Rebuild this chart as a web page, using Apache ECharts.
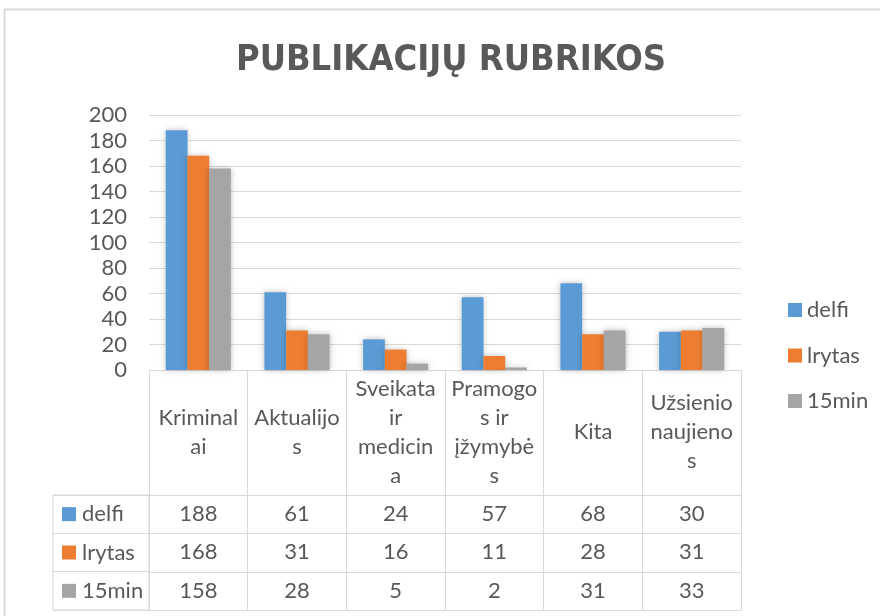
<!DOCTYPE html>
<html>
<head>
<meta charset="utf-8">
<title>Publikacijų rubrikos</title>
<script src="https://cdn.jsdelivr.net/npm/echarts@6.0.0/dist/echarts.min.js"></script>
<style>
  html, body { margin: 0; padding: 0; background: #fff; }
  #chart { width: 880px; height: 616px; }
</style>
</head>
<body>
<div id="chart"></div>
<script>
// header row of the data table, wrapped the same way as in the picture
var categories = ['Kriminal\nai', 'Aktualijo\ns', 'Sveikata\nir\nmedicin\na', 'Pramogo\ns ir\nįžymybė\ns', 'Kita', 'Užsienio\nnaujieno\ns']
var seriesNames = ['delfi', 'lrytas', '15min']
var delfi = [188, 61, 24, 57, 68, 30]
var lrytas = [168, 31, 16, 11, 28, 31]
var min15 = [158, 28, 5, 2, 31, 33]
var yTicks = { min: 0, max: 200, step: 20 }

var colors = ['#5B9BD5', '#ED7D31', '#A5A5A5']
var textColor = '#595959'
var lineColor = '#D9D9D9'
var font = 'Lato, "Open Sans", sans-serif'

var chart = echarts.init(document.getElementById('chart'), null, { renderer: 'canvas' })

var values = [delfi, lrytas, min15]

// one extra x axis per table row, stacked under the plot with offset
var rowOffsets = [125, 163, 202]
var tableAxes = values.map(function(row, i) {
  return {
    type: 'category',
    gridIndex: 0,
    position: 'bottom',
    offset: rowOffsets[i],
    data: row.map(String),
    axisLine: { show: true, lineStyle: { color: lineColor, width: 1 }},
    axisTick: { show: false },
    axisLabel: {
      interval: 0,
      margin: 19,
      verticalAlign: 'middle',
      fontSize: 22,
      fontFamily: font,
      color: textColor
    },
    splitLine: { show: false }
  }
})

var legendRich = { t: { padding: [0, 0, 0, 6], fontSize: 22, fontFamily: font, color: textColor }}
colors.forEach(function(c, i) {
  legendRich['s' + i] = { backgroundColor: c, width: 14, height: 14 }
})

var option = {
  animation: false,
  backgroundColor: '#fff',
  textStyle: { fontFamily: font },
  title: {
    text: 'PUBLIKACIJŲ RUBRIKOS',
    left: 451,
    top: 43,
    padding: 0,
    textAlign: 'center',
    textStyle: {
      fontFamily: '"Liberation Sans Narrow", "DejaVu Sans Condensed", sans-serif',
      fontWeight: 'bold',
      fontSize: 36,
      color: textColor
    }
  },
  graphic: [{
    // chart frame
    type: 'rect',
    shape: { x: 4.5, y: 9.5, width: 900, height: 700 },
    style: { fill: 'none', stroke: lineColor, lineWidth: 2 },
    silent: true
  }],
  legend: {
    orient: 'vertical',
    left: 783,
    top: 294,
    icon: 'rect',
    itemWidth: 14,
    itemHeight: 14,
    itemGap: 23.5,
    data: seriesNames,
    textStyle: { fontSize: 22, fontFamily: font, color: textColor }
  },
  grid: [
    { left: 149, right: 139, top: 115, bottom: 246, containLabel: false, outerBoundsMode: 'none' },
    {
      left: 53, top: 495, width: 96, height: 115,
      show: true, borderColor: lineColor, borderWidth: 1, backgroundColor: 'transparent',
      containLabel: false, outerBoundsMode: 'none'
    }
  ],
  xAxis: [{
    type: 'category',
    gridIndex: 0,
    position: 'bottom',
    data: categories,
    axisLine: { show: true, lineStyle: { color: lineColor, width: 1 }},
    axisTick: { show: true, interval: 0, length: 240, lineStyle: { color: lineColor, width: 1 }},
    axisLabel: {
      interval: 0,
      margin: 62,
      verticalAlign: 'middle',
      align: 'center',
      lineHeight: 29,
      fontSize: 22,
      fontFamily: font,
      color: textColor
    }
  }].concat(tableAxes, [{
    // bottom border of the table
    type: 'category',
    gridIndex: 0,
    position: 'bottom',
    offset: 240,
    data: categories,
    axisLine: { show: true, lineStyle: { color: lineColor, width: 1 }},
    axisTick: { show: false },
    axisLabel: { show: false }
  }, {
    type: 'value',
    gridIndex: 1,
    show: false
  }]),
  yAxis: [{
    type: 'value',
    gridIndex: 0,
    min: yTicks.min,
    max: yTicks.max,
    interval: yTicks.step,
    axisLine: { show: false },
    axisTick: { show: false },
    axisLabel: { margin: 22, fontSize: 22, fontFamily: font, color: textColor },
    splitLine: { lineStyle: { color: lineColor, width: 1 }}
  }, {
    // legend keys column of the data table
    type: 'category',
    gridIndex: 1,
    inverse: true,
    data: seriesNames,
    axisLine: { show: false },
    axisTick: { show: false },
    splitLine: { show: true, interval: 0, lineStyle: { color: lineColor, width: 1 }},
    axisLabel: {
      inside: true,
      margin: 9,
      interval: 0,
      formatter: function(v, i) {
        return '{s' + i + '|}{t|' + v + '}'
      },
      rich: legendRich
    }
  }],
  series: [delfi, lrytas, min15].map(function(d, i) {
    return {
      name: seriesNames[i],
      type: 'bar',
      xAxisIndex: 0,
      yAxisIndex: 0,
      data: d,
      barGap: '0%',
      barCategoryGap: '34%',
      itemStyle: {
        color: colors[i],
        shadowBlur: 6,
        shadowColor: 'rgba(0, 0, 0, 0.25)'
      }
    }
  })
}

chart.setOption(option)
</script>
</body>
</html>
